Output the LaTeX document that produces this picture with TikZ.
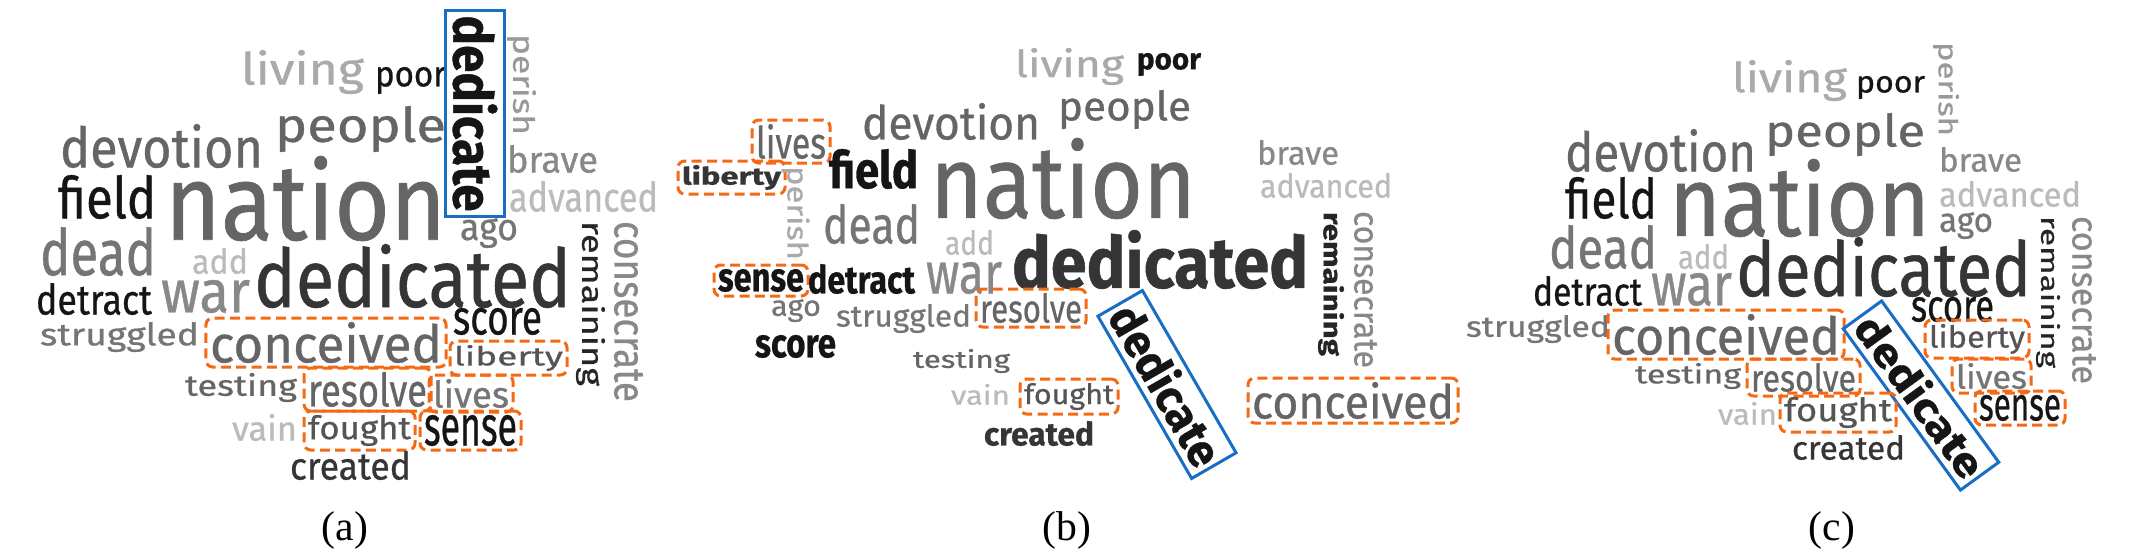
\documentclass[tikz,border=0pt]{standalone}
\usepackage{fontspec}
\usepackage{graphicx}
\usepackage{xcolor}
\usepackage{tikz}
\newfontfamily\cloudfont[FakeBold=0.7]{Fira Sans}
\newfontfamily\capfont{Liberation Serif}
\definecolor{hlorange}{RGB}{245,105,20}
\definecolor{tgblue}{RGB}{25,110,195}
\definecolor{c111}{HTML}{151515}
\definecolor{c222}{HTML}{252525}
\definecolor{c333}{HTML}{353535}
\definecolor{c555}{HTML}{555555}
\definecolor{c666}{HTML}{656565}
\definecolor{c777}{HTML}{757575}
\definecolor{c888}{HTML}{888888}
\definecolor{c999}{HTML}{999999}
\definecolor{cAAA}{HTML}{AAAAAA}
\definecolor{cBBB}{HTML}{BBBBBB}
\newlength\pxu
\setlength\pxu{0.3pt}
% word squeezed to its ink box (width, height in px)
\newcommand\wc[3]{\resizebox*{#1\pxu}{#2\pxu}{#3}}

\begin{document}
\begin{tikzpicture}[
  x=0.3pt, y=-0.3pt,
  cw/.style={inner sep=0pt, text=#1, font=\cloudfont},
  hv/.style={font=\cloudfont\bfseries},
  hl/.style={draw=hlorange, dash pattern=on 3pt off 1.6pt, line width=0.9pt,
             rounded corners=2pt, inner sep=1.2pt},
  tg/.style={draw=tgblue, line width=0.9pt, inner xsep=1.4pt, inner ysep=2pt},
  panellabel/.style={font=\capfont\fontsize{12.5}{14}\selectfont}
]
\useasboundingbox (0,0) rectangle (2136,555);

% (a)
\node[cw=cAAA] (a-living) at (302.5,72) {\wc{123}{44}{living}};
\node[cw=c111] (a-poor) at (410.5,80.5) {\wc{71}{27}{poor}};
\node[cw=c111, tg, hv, rotate=-90] (a-dedicate) at (475,113.5) {\wc{196}{45}{dedicate}};
\node[cw=c999, rotate=-90] (a-perish) at (521.5,84.5) {\wc{101}{29}{perish}};
\node[cw=c666] (a-people) at (360.5,129) {\wc{171}{46}{people}};
\node[cw=c666] (a-devotion) at (161.5,146) {\wc{203}{44}{devotion}};
\node[cw=c888] (a-brave) at (552.5,159) {\wc{91}{28}{brave}};
\node[cw=cBBB] (a-advanced) at (583.5,196.5) {\wc{149}{31}{advanced}};
\node[cw=c111] (a-field) at (107,197) {\wc{98}{44}{field}};
\node[cw=c666] (a-nation) at (305.5,198.5) {\wc{281}{85}{nation}};
\node[cw=c777] (a-ago) at (489,233) {\wc{58}{30}{ago}};
\node[cw=c777] (a-dead) at (98,251.5) {\wc{116}{49}{dead}};
\node[cw=cBBB] (a-add) at (220,261) {\wc{56}{26}{add}};
\node[cw=c333] (a-dedicated) at (412.5,276) {\wc{317}{64}{dedicated}};
\node[cw=c222, rotate=-90] (a-remaining) at (590.5,303.5) {\wc{165}{29}{remaining}};
\node[cw=c888, rotate=-90] (a-consecrate) at (628.5,311.5) {\wc{181}{29}{consecrate}};
\node[cw=c111] (a-detract) at (94,299) {\wc{116}{32}{detract}};
\node[cw=c888] (a-war) at (205.5,296.5) {\wc{89}{33}{war}};
\node[cw=c777] (a-struggled) at (119.5,337) {\wc{159}{30}{struggled}};
\node[cw=c666, hl] (a-conceived) at (326,342.5) {\wc{232}{41}{conceived}};
\node[cw=c111] (a-score) at (497.5,321.5) {\wc{89}{27}{score}};
\node[cw=c555, hl] (a-liberty) at (508.5,358) {\wc{109}{26}{liberty}};
\node[cw=c666] (a-testing) at (241,387.5) {\wc{112}{29}{testing}};
\node[cw=c666, hl] (a-resolve) at (367.5,389.5) {\wc{119}{35}{resolve}};
\node[cw=c777, hl] (a-lives) at (471,393.5) {\wc{76}{29}{lives}};
\node[cw=cBBB] (a-vain) at (264.5,427.5) {\wc{65}{27}{vain}};
\node[cw=c555, hl] (a-fought) at (359.5,430.5) {\wc{103}{31}{fought}};
\node[cw=c111, hl] (a-sense) at (470.5,430.5) {\wc{93}{31}{sense}};
\node[cw=c333] (a-created) at (350.5,465.5) {\wc{121}{29}{created}};
\node[panellabel] (a-label) at (345,530) {(a)};

% (b)
\node[cw=cAAA] (b-living) at (1069.5,66.5) {\wc{109}{37}{living}};
\node[cw=c111, hv] (b-poor) at (1169,64.5) {\wc{64}{23}{poor}};
\node[cw=c666] (b-devotion) at (951,121.5) {\wc{178}{37}{devotion}};
\node[cw=c666] (b-people) at (1124.5,109.5) {\wc{133}{39}{people}};
\node[cw=c666, hl] (b-lives) at (791,141.5) {\wc{70}{35}{lives}};
\node[cw=c333, hl, hv] (b-liberty) at (731.5,177.5) {\wc{99}{25}{liberty}};
\node[cw=cAAA, rotate=-90] (b-perish) at (795.5,213) {\wc{94}{28}{perish}};
\node[cw=c111, hv] (b-field) at (873.5,169) {\wc{89}{40}{field}};
\node[cw=c666] (b-nation) at (1063,178.5) {\wc{266}{81}{nation}};
\node[cw=c888] (b-brave) at (1298,152.5) {\wc{82}{25}{brave}};
\node[cw=cBBB] (b-advanced) at (1326,185.5) {\wc{132}{25}{advanced}};
\node[cw=c777] (b-dead) at (871.5,224) {\wc{97}{40}{dead}};
\node[cw=cBBB] (b-add) at (969.5,242.5) {\wc{49}{25}{add}};
\node[cw=c333, hv] (b-dedicated) at (1160,259.5) {\wc{296}{59}{dedicated}};
\node[cw=c222, hv, rotate=-90] (b-remaining) at (1331,284) {\wc{144}{26}{remaining}};
\node[cw=c888, rotate=-90] (b-consecrate) at (1365.5,289.5) {\wc{157}{23}{consecrate}};
\node[cw=c111, hl, hv] (b-sense) at (761,280.5) {\wc{86}{23}{sense}};
\node[cw=c111, hv] (b-detract) at (861.5,279) {\wc{107}{30}{detract}};
\node[cw=c888] (b-war) at (964,278) {\wc{76}{32}{war}};
\node[cw=c777] (b-ago) at (796,310.5) {\wc{50}{23}{ago}};
\node[cw=c777] (b-struggled) at (903.5,318.5) {\wc{135}{29}{struggled}};
\node[cw=c666, hl] (b-resolve) at (1031,308) {\wc{102}{30}{resolve}};
\node[cw=c111, hv] (b-score) at (795.5,346.5) {\wc{81}{23}{score}};
\node[cw=c666] (b-testing) at (961.5,361) {\wc{97}{24}{testing}};
\node[cw=c111, tg, hv, rotate=-60] (b-dedicate) at (1167,384.5) {\wc{178}{38}{dedicate}};
\node[cw=cBBB] (b-vain) at (980.5,394.5) {\wc{59}{21}{vain}};
\node[cw=c555, hl] (b-fought) at (1069,396.5) {\wc{90}{27}{fought}};
\node[cw=c333, hv] (b-created) at (1039,433.5) {\wc{110}{25}{created}};
\node[cw=c666, hl] (b-conceived) at (1353,400.5) {\wc{202}{37}{conceived}};
\node[panellabel] (b-label) at (1067,530) {(b)};

% (c)
\node[cw=cAAA] (c-living) at (1789.5,80.5) {\wc{115}{41}{living}};
\node[cw=c111] (c-poor) at (1890.5,87.5) {\wc{69}{23}{poor}};
\node[cw=c999, rotate=-90] (c-perish) at (1946,89) {\wc{94}{26}{perish}};
\node[cw=c666] (c-people) at (1845,134.5) {\wc{160}{43}{people}};
\node[cw=c666] (c-devotion) at (1660.5,150.5) {\wc{191}{43}{devotion}};
\node[cw=c888] (c-brave) at (1980.5,159.5) {\wc{83}{25}{brave}};
\node[cw=cBBB] (c-advanced) at (2010,194) {\wc{142}{26}{advanced}};
\node[cw=c111] (c-field) at (1611,198) {\wc{92}{42}{field}};
\node[cw=c666] (c-nation) at (1799.5,198) {\wc{261}{78}{nation}};
\node[cw=c777] (c-ago) at (1966,225.5) {\wc{54}{27}{ago}};
\node[cw=c777] (c-dead) at (1603,247) {\wc{108}{44}{dead}};
\node[cw=cBBB] (c-add) at (1703.5,256.5) {\wc{51}{25}{add}};
\node[cw=c333] (c-dedicated) at (1883.5,267) {\wc{295}{60}{dedicated}};
\node[cw=c222, rotate=-90] (c-remaining) at (2048,292) {\wc{152}{24}{remaining}};
\node[cw=c888, rotate=-90] (c-consecrate) at (2084,300) {\wc{168}{24}{consecrate}};
\node[cw=c111] (c-detract) at (1587.5,291) {\wc{109}{30}{detract}};
\node[cw=c888] (c-war) at (1691.5,289.5) {\wc{81}{33}{war}};
\node[cw=c111] (c-score) at (1952.5,309.5) {\wc{83}{25}{score}};
\node[cw=c777] (c-struggled) at (1538,329) {\wc{144}{28}{struggled}};
\node[cw=c666, hl] (c-conceived) at (1726,334.5) {\wc{228}{41}{conceived}};
\node[cw=c111, tg, hv, rotate=-54] (c-dedicate) at (1921,395.5) {\wc{190}{34}{dedicate}};
\node[cw=c555, hl] (c-liberty) at (1977,339) {\wc{96}{30}{liberty}};
\node[cw=c666] (c-testing) at (1688,376) {\wc{106}{26}{testing}};
\node[cw=c666, hl] (c-resolve) at (1803.5,377.5) {\wc{105}{29}{resolve}};
\node[cw=c777, hl] (c-lives) at (1991.5,376) {\wc{71}{26}{lives}};
\node[cw=cBBB] (c-vain) at (1747.5,413.5) {\wc{59}{23}{vain}};
\node[cw=c555, hl] (c-fought) at (1838,412.5) {\wc{108}{31}{fought}};
\node[cw=c111, hl] (c-sense) at (2020,408) {\wc{82}{26}{sense}};
\node[cw=c333] (c-created) at (1848.5,447.5) {\wc{113}{25}{created}};
\node[panellabel] (c-label) at (1832,530) {(c)};
\end{tikzpicture}
\end{document}
